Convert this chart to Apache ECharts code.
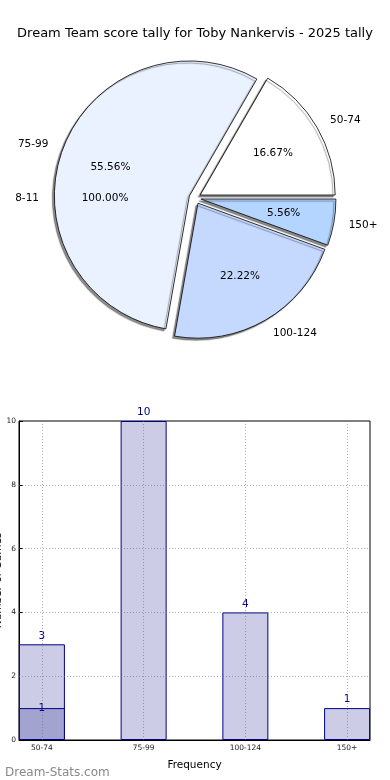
<!DOCTYPE html>
<html><head><meta charset="utf-8">
<script src="https://cdn.jsdelivr.net/npm/echarts@6/dist/echarts.min.js"></script>
<style>html,body{margin:0;padding:0;background:#fff}#c{width:390px;height:780px}</style>
</head><body><div id="c"></div>
<script>
const titleText = 'Dream Team score tally for Toby Nankervis - 2025 tally';
const bins = ['50-74', '75-99', '100-124', '150+'];
const counts = [3, 10, 4, 1];
const pieColors = ['#ffffff', '#eaf1ff', '#c5d9ff', '#b3d5ff'];
const outerBins = ['8-11'];
const outerCounts = [1];
const barOverlay = [1, null, null, null];
const yTicks = [0, 2, 4, 6, 8, 10];
const xTickPos = [0, 1, 2, 3];

const FONT = 'DejaVu Sans';
const R = 135, CX = 195, CY = 198, EXP = 6;
const total = counts.reduce((a, b) => a + b, 0);
const outerTotal = outerCounts.reduce((a, b) => a + b, 0);
const pct = (v, t) => (v / t * 100).toFixed(2) + '%';

function pieBase(extra) {
  return Object.assign({
    type: 'pie', center: [CX, CY], startAngle: 0, clockwise: false,
    selectedMode: 'multiple', selectedOffset: EXP, avoidLabelOverlap: false,
    silent: true, animation: false, labelLine: { show: false, length: 15, length2: 0 },
    emphasis: { disabled: true }
  }, extra);
}
const transparent = { color: 'rgba(0,0,0,0)', borderWidth: 0 };

const chart = echarts.init(document.getElementById('c'), null, { renderer: 'canvas' });
chart.setOption({
  animation: false,
  backgroundColor: '#fff',
  title: [
    { text: titleText, left: 'center', top: 22, textStyle: { fontFamily: FONT, fontSize: 13, fontWeight: 'normal', color: '#000' } },
    { text: 'Dream-Stats.com', left: 0, top: 762, textStyle: { fontFamily: FONT, fontSize: 12, fontWeight: 'normal', color: '#888888' } }
  ],
  grid: { left: 19, right: 20, top: 421, bottom: 40, containLabel: false, outerBoundsMode: 'none',
          show: true, borderColor: '#000', borderWidth: 1, backgroundColor: 'transparent' },
  xAxis: {
    type: 'value', min: -0.225, max: 3.225,
    name: 'Frequency', nameLocation: 'middle', nameGap: 20,
    nameTextStyle: { fontFamily: FONT, fontSize: 10.5, color: '#000' },
    axisLine: { show: true, onZero: false, lineStyle: { color: '#000' } },
    axisTick: { show: true, inside: true, length: 4, customValues: xTickPos, lineStyle: { color: '#000' } },
    axisLabel: { customValues: xTickPos, formatter: v => bins[Math.round(v)], fontFamily: FONT, fontSize: 7.5, color: '#222', margin: 4 },
    splitLine: { show: false }
  },
  yAxis: {
    type: 'value', min: 0, max: 10, interval: 2,
    name: 'Number of Games', nameLocation: 'middle', nameGap: 15, nameRotate: 90, nameMoveOverlap: false,
    nameTextStyle: { fontFamily: FONT, fontSize: 10.5, color: '#000' },
    axisLine: { show: true, onZero: false, lineStyle: { color: '#000' } },
    axisTick: { show: true, inside: true, length: 4, lineStyle: { color: '#000' } },
    axisLabel: { fontFamily: FONT, fontSize: 7.5, color: '#222', margin: 3 },
    splitLine: { show: false }
  },
  series: [
    pieBase({
      name: 'outerNames', radius: [0, R], z: 1,
      data: outerBins.map((n, i) => ({ name: n, value: outerCounts[i], selected: true, itemStyle: transparent })),
      label: { position: 'outside', formatter: '{b}', fontFamily: FONT, fontSize: 10.5, color: '#000', distanceToLabelLine: 0 }
    }),
    pieBase({
      name: 'main', radius: [0, R], z: 2,
      data: bins.map((n, i) => ({ name: n, value: counts[i], selected: true, itemStyle: { color: pieColors[i] } })),
      itemStyle: { borderColor: '#000', borderWidth: 0.8, shadowColor: 'rgba(0,0,0,0.45)', shadowBlur: 1, shadowOffsetX: -2, shadowOffsetY: 2 },
      label: { position: 'outside', formatter: '{b}', fontFamily: FONT, fontSize: 10.5, color: '#000', distanceToLabelLine: 0 }
    }),
    pieBase({
      name: 'mainPct', radius: [0, R * 1.2], z: 3,
      data: bins.map((n, i) => ({ name: n, value: counts[i], selected: true, itemStyle: transparent })),
      label: { position: 'inside', formatter: p => pct(p.value, total), fontFamily: FONT, fontSize: 10.5, color: '#000' }
    }),
    pieBase({
      name: 'outerPct', radius: [0, R * 1.2], z: 3,
      data: outerBins.map((n, i) => ({ name: n, value: outerCounts[i], selected: true, itemStyle: transparent })),
      label: { position: 'inside', formatter: p => pct(p.value, outerTotal), fontFamily: FONT, fontSize: 10.5, color: '#000' }
    }),
    {
      type: 'bar', name: 'tally', barWidth: 46, barGap: '-100%',
      data: counts.map((v, i) => [xTickPos[i], v]),
      itemStyle: { color: '#cccce6', borderColor: '#00008b', borderWidth: 1 },
      label: { show: true, position: 'top', distance: 3, formatter: p => p.value[1], fontFamily: FONT, fontSize: 10.5, color: '#00008b' },
      silent: true,
      markLine: {
        silent: true, symbol: 'none', label: { show: false },
        lineStyle: { color: 'rgba(110,110,110,0.55)', type: [1, 2], width: 1 },
        data: xTickPos.map(x => ({ xAxis: x })).concat(yTicks.slice(1, -1).map(y => ({ yAxis: y })))
      }
    },
    {
      type: 'bar', name: 'overlay', barWidth: 46, barGap: '-100%',
      data: barOverlay.map((v, i) => [xTickPos[i], v]),
      itemStyle: { color: '#a3a3d0', borderColor: '#00008b', borderWidth: 1 },
      label: { show: true, position: 'top', distance: -6, formatter: p => p.value[1], fontFamily: FONT, fontSize: 10.5, color: '#00008b' },
      silent: true
    }
  ]
});
</script></body></html>
